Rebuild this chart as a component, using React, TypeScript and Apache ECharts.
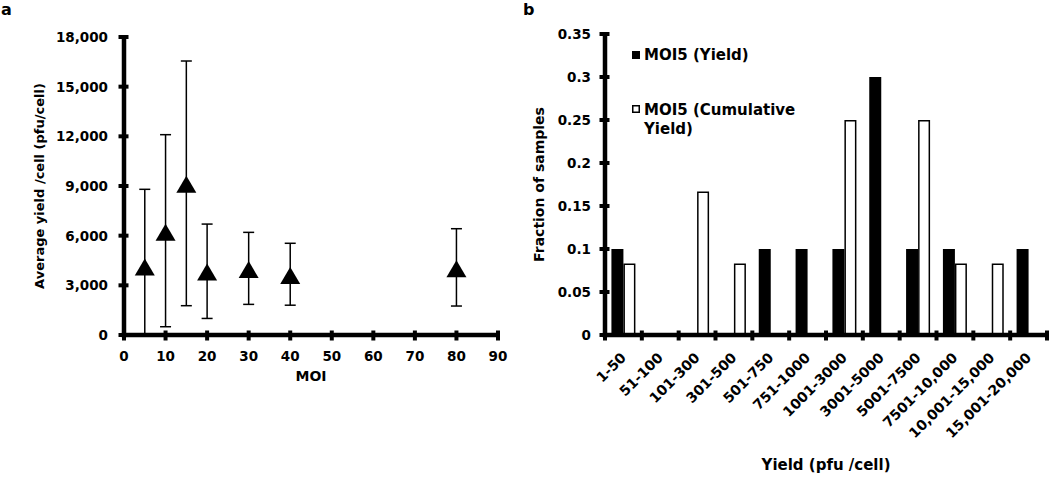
import React, { useEffect, useRef } from 'react';
import * as echarts from 'echarts';

const moiValues = [5, 10, 15, 20, 30, 40, 80];
const averageYield = [4100, 6200, 9100, 3800, 3950, 3600, 4000];
const yieldLow = [0, 500, 1770, 1000, 1850, 1800, 1750];
const yieldHigh = [8800, 12100, 16550, 6700, 6200, 5540, 6420];
const moiTicks = [0, 10, 20, 30, 40, 50, 60, 70, 80, 90];
const avgYieldTicks = [0, 3000, 6000, 9000, 12000, 15000, 18000];

const yieldBins = ['1-50', '51-100', '101-300', '301-500', '501-750', '751-1000', '1001-3000', '3001-5000', '5001-7500', '7501-10,000', '10,001-15,000', '15,001-20,000'];
const fractionYield = [0.1, 0, 0, 0, 0.1, 0.1, 0.1, 0.3, 0.1, 0.1, 0, 0.1];
const fractionCumulative = [0.083, 0, 0.167, 0.083, 0, 0, 0.25, 0, 0.25, 0.083, 0.083, 0];
const fractionTicks = [0, 0.05, 0.1, 0.15, 0.2, 0.25, 0.3, 0.35];

const FONT = "'DejaVu Sans', Verdana, sans-serif";

const mkLabel = (extra: any = {}) => ({ color: '#000', fontWeight: 'bold', fontFamily: FONT, fontSize: 13.5, ...extra });
const mkName = (size: number) => ({ color: '#000', fontWeight: 'bold', fontFamily: FONT, fontSize: size });

const AXIS_W = 4.5;
const TICK_W = 4;
const TICK_HALF = 5.5;

function line(x1: number, y1: number, x2: number, y2: number, w: number) {
  return { type: 'line', shape: { x1, y1, x2, y2 }, style: { stroke: '#000', lineWidth: w, lineCap: 'butt' } };
}

export default function App() {
  const ref = useRef<HTMLDivElement>(null);
  useEffect(() => {
    if (!ref.current) return;
    const chart = echarts.init(ref.current, null, { renderer: 'svg' });
    chart.setOption({
      animation: false,
      backgroundColor: '#fff',
      textStyle: { fontFamily: FONT, color: '#000' },
      grid: [
        { left: 124, top: 37, width: 374, height: 298 },
        { left: 605, top: 34, width: 442, height: 301 },
      ],
      xAxis: [
        {
          type: 'value', gridIndex: 0, min: moiTicks[0], max: moiTicks[moiTicks.length - 1], interval: 10,
          axisLine: { show: false }, axisTick: { show: false }, splitLine: { show: false },
          axisLabel: mkLabel({ margin: 14 }),
          name: 'MOI', nameLocation: 'middle', nameGap: 34, nameTextStyle: mkName(14),
        },
        {
          type: 'category', gridIndex: 1, data: yieldBins,
          axisLine: { show: false }, axisTick: { show: false },
          axisLabel: mkLabel({ fontSize: 14, rotate: 45, interval: 0, margin: 20 }),
          name: 'Yield (pfu /cell)', nameLocation: 'middle', nameGap: 122, nameTextStyle: mkName(15),
        },
      ],
      yAxis: [
        {
          type: 'value', gridIndex: 0, min: avgYieldTicks[0], max: avgYieldTicks[avgYieldTicks.length - 1], interval: 3000,
          axisLine: { show: false }, axisTick: { show: false }, splitLine: { show: false },
          axisLabel: mkLabel({ margin: 16, formatter: (v: number) => v.toLocaleString('en-US') }),
          name: 'Average yield /cell (pfu/cell)', nameLocation: 'middle', nameGap: 78, nameRotate: 90,
          nameTextStyle: mkName(13),
        },
        {
          type: 'value', gridIndex: 1, min: fractionTicks[0], max: fractionTicks[fractionTicks.length - 1], interval: 0.05,
          axisLine: { show: false }, axisTick: { show: false }, splitLine: { show: false },
          axisLabel: mkLabel({ margin: 14 }),
          name: 'Fraction of samples', nameLocation: 'middle', nameGap: 59, nameRotate: 90,
          nameTextStyle: mkName(14),
        },
      ],
      series: [
        {
          type: 'custom', xAxisIndex: 0, yAxisIndex: 0,
          data: moiValues.map((m, i) => [m, yieldLow[i], yieldHigh[i]]),
          encode: { x: 0, y: [1, 2] },
          renderItem: (params: any, api: any) => {
            const x = api.value(0);
            const lo = api.coord([x, api.value(1)]);
            const hi = api.coord([x, api.value(2)]);
            const hw = 5.5;
            const st = { stroke: '#000', lineWidth: 1.5 };
            return {
              type: 'group',
              children: [
                { type: 'line', shape: { x1: lo[0], y1: lo[1], x2: hi[0], y2: hi[1] }, style: st },
                { type: 'line', shape: { x1: hi[0] - hw, y1: hi[1], x2: hi[0] + hw, y2: hi[1] }, style: st },
                { type: 'line', shape: { x1: lo[0] - hw, y1: lo[1], x2: lo[0] + hw, y2: lo[1] }, style: st },
              ],
            };
          },
          z: 2,
        },
        {
          type: 'scatter', xAxisIndex: 0, yAxisIndex: 0,
          data: moiValues.map((m, i) => [m, averageYield[i]]),
          symbol: 'triangle', symbolSize: [20, 17],
          itemStyle: { color: '#000', opacity: 1 }, z: 3,
        },
        {
          // axis frame of chart a
          type: 'custom', xAxisIndex: 0, yAxisIndex: 0, silent: true, z: 6,
          data: [[moiTicks[0], avgYieldTicks[0]]],
          renderItem: (params: any, api: any) => {
            const xMin = moiTicks[0], xMax = moiTicks[moiTicks.length - 1];
            const yMin = avgYieldTicks[0], yMax = avgYieldTicks[avgYieldTicks.length - 1];
            const o = api.coord([xMin, yMin]);
            const xe = api.coord([xMax, yMin]);
            const ye = api.coord([xMin, yMax]);
            const ch: any[] = [
              line(o[0] - AXIS_W / 2, o[1], xe[0] + 2, xe[1], AXIS_W),
              line(o[0], o[1] + AXIS_W / 2, ye[0], ye[1] - 2, AXIS_W),
            ];
            moiTicks.forEach((v) => {
              const p = api.coord([v, yMin]);
              ch.push(line(p[0], p[1] - TICK_HALF + 1, p[0], p[1] + TICK_HALF, TICK_W));
            });
            avgYieldTicks.forEach((v) => {
              const p = api.coord([xMin, v]);
              ch.push(line(p[0] - TICK_HALF, p[1], p[0] + TICK_HALF - 1, p[1], TICK_W));
            });
            return { type: 'group', children: ch };
          },
        },
        {
          name: 'MOI5 (Yield)', type: 'bar', xAxisIndex: 1, yAxisIndex: 1,
          data: fractionYield, barWidth: 12, barGap: '0%',
          itemStyle: { color: '#000' },
        },
        {
          name: 'MOI5 (Cumulative Yield)', type: 'bar', xAxisIndex: 1, yAxisIndex: 1,
          data: fractionCumulative, barWidth: 12, barGap: '0%',
          itemStyle: { color: '#fff', borderColor: '#000', borderWidth: 1.5 },
        },
        {
          // axis frame of chart b
          type: 'custom', xAxisIndex: 1, yAxisIndex: 1, silent: true, z: 6,
          data: [[0, fractionTicks[0]]],
          renderItem: (params: any, api: any) => {
            const yMin = fractionTicks[0], yMax = fractionTicks[fractionTicks.length - 1];
            const band = api.size([1, 0])[0];
            const c0 = api.coord([0, yMin]);
            const x0 = c0[0] - band / 2;
            const x1 = x0 + band * yieldBins.length;
            const yTop = api.coord([0, yMax])[1];
            const ch: any[] = [
              line(x0 - AXIS_W / 2, c0[1], x1 + 2, c0[1], AXIS_W),
              line(x0, c0[1] + AXIS_W / 2, x0, yTop - 2, AXIS_W),
            ];
            for (let i = 0; i <= yieldBins.length; i++) {
              const x = x0 + band * i;
              ch.push(line(x, c0[1] - TICK_HALF + 1, x, c0[1] + TICK_HALF, TICK_W));
            }
            fractionTicks.forEach((v) => {
              const p = api.coord([0, v]);
              ch.push(line(x0 - TICK_HALF, p[1], x0 + TICK_HALF - 1, p[1], TICK_W));
            });
            return { type: 'group', children: ch };
          },
        },
      ],
      graphic: [
        { type: 'text', left: 1, top: 1, style: { text: 'a', fontSize: 16, fontWeight: 'bold', fontFamily: FONT, fill: '#000' } },
        { type: 'text', left: 523, top: 1, style: { text: 'b', fontSize: 16, fontWeight: 'bold', fontFamily: FONT, fill: '#000' } },
        { type: 'rect', shape: { x: 632, y: 51, width: 8, height: 8 }, style: { fill: '#000' } },
        { type: 'text', x: 644, y: 55, style: { text: 'MOI5 (Yield)', fontSize: 15, fontWeight: 'bold', fontFamily: FONT, fill: '#000', verticalAlign: 'middle' } },
        { type: 'rect', shape: { x: 632.75, y: 105.75, width: 6.5, height: 6.5 }, style: { fill: '#fff', stroke: '#000', lineWidth: 1.5 } },
        { type: 'text', x: 644, y: 100, style: { text: 'MOI5 (Cumulative\nYield)', fontSize: 15, lineHeight: 19, fontWeight: 'bold', fontFamily: FONT, fill: '#000', verticalAlign: 'top' } },
      ],
    });
    return () => chart.dispose();
  }, []);
  return <div ref={ref} style={{ position: 'fixed', left: 0, top: 0, width: 1050, height: 477 }} />;
}
